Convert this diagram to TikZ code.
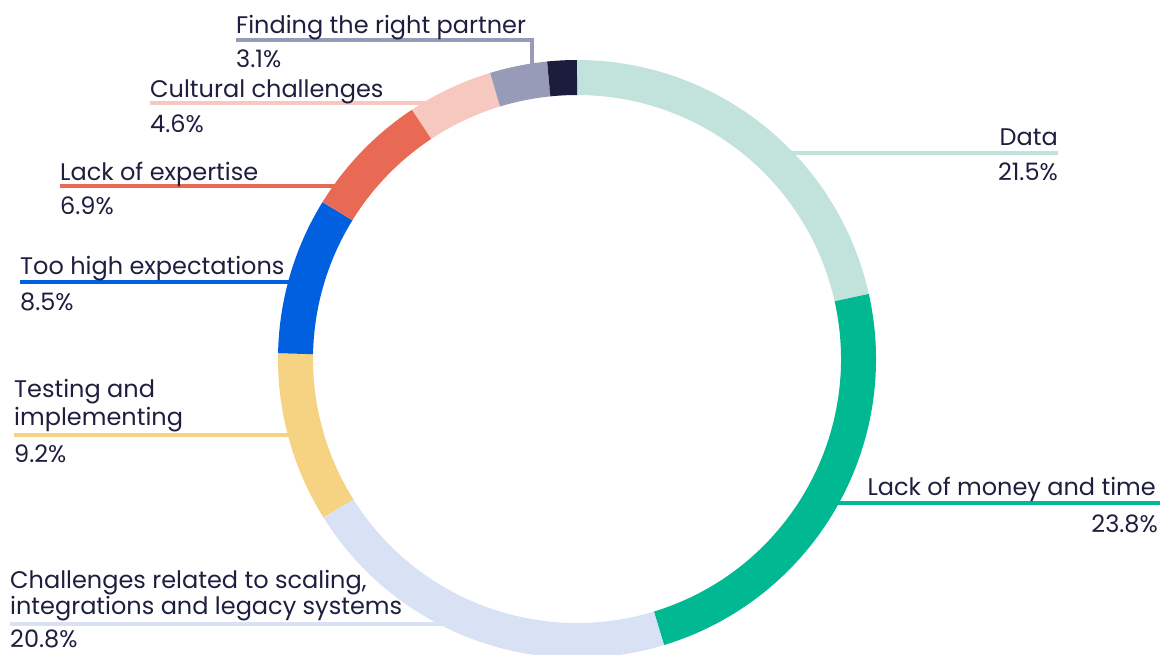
\documentclass[tikz,border=0pt]{standalone}
\usepackage{fontspec}
\setmainfont{Poppins}
\usetikzlibrary{calc}
\definecolor{ink}{HTML}{1E1F3F}
\definecolor{cData}{HTML}{C2E3DC}
\definecolor{cMoney}{HTML}{00B891}
\definecolor{cScale}{HTML}{D9E1F4}
\definecolor{cTest}{HTML}{F5D382}
\definecolor{cExpect}{HTML}{0060DF}
\definecolor{cExpert}{HTML}{E86A55}
\definecolor{cCult}{HTML}{F7C8C0}
\definecolor{cPartner}{HTML}{979BB7}
\definecolor{cNavy}{HTML}{1C1D3D}
\newcommand\ringseg[3]{\draw[#1, line width=35pt] (C) ++(#2:281.5) arc[start angle=#2, end angle=#3, radius=281.5];}
\begin{document}
\begin{tikzpicture}[x=1pt, y=-1pt,
  lbl/.style={inner sep=0pt, text=ink, font=\fontsize{24}{28}\selectfont},
  lead/.style={line width=4pt}]
\useasboundingbox (0,0) rectangle (1165,654);
\coordinate (C) at (577,359);
% leader lines (behind ring)
\draw[lead, cData] (1058,153) -- (780,153);
\draw[lead, cMoney] (1160,503) -- (820,503);
\draw[lead, cScale] (10,624) -- (460,624);
\draw[lead, cTest] (14,435) -- (305,435);
\draw[lead, cExpect] (20,282) -- (305,282);
\draw[lead, cExpert] (60,186) -- (350,186);
\draw[lead, cCult] (150,103) -- (435,103);
\draw[lead, cPartner] (236,40) -- (532,40) -- (532,75);
% ring
\ringseg{cData}{-90}{-12.6}
\ringseg{cMoney}{-12.6}{73.08}
\ringseg{cScale}{73.08}{147.96}
\ringseg{cTest}{147.96}{181.08}
\ringseg{cExpect}{181.08}{211.68}
\ringseg{cExpert}{211.68}{236.52}
\ringseg{cCult}{236.52}{253.08}
\ringseg{cPartner}{253.08}{264.24}
\ringseg{cNavy}{264.24}{270}
% labels
\node[lbl, anchor=base east] (dataT) at (1058,145) {Data};
\node[lbl, anchor=base east] (dataV) at (1058,180) {21.5\%};
\node[lbl, anchor=base east] (moneyT) at (1156,495) {Lack of money and time};
\node[lbl, anchor=base east] (moneyV) at (1158,532) {23.8\%};
\node[lbl, anchor=base west] (scaleT1) at (10,588) {Challenges related to scaling,};
\node[lbl, anchor=base west] (scaleT2) at (10,614) {integrations and legacy systems};
\node[lbl, anchor=base west] (scaleV) at (10,647) {20.8\%};
\node[lbl, anchor=base west] (testT1) at (14,397) {Testing and};
\node[lbl, anchor=base west] (testT2) at (14,425) {implementing};
\node[lbl, anchor=base west] (testV) at (14,462) {9.2\%};
\node[lbl, anchor=base west] (expT) at (20,274) {Too high expectations};
\node[lbl, anchor=base west] (expV) at (20,310) {8.5\%};
\node[lbl, anchor=base west] (xpT) at (60,180) {Lack of expertise};
\node[lbl, anchor=base west] (xpV) at (60,214) {6.9\%};
\node[lbl, anchor=base west] (cuT) at (150,97) {Cultural challenges};
\node[lbl, anchor=base west] (cuV) at (150,132) {4.6\%};
\node[lbl, anchor=base west] (paT) at (236,33) {Finding the right partner};
\node[lbl, anchor=base west] (paV) at (236,67) {3.1\%};
\end{tikzpicture}
\end{document}
